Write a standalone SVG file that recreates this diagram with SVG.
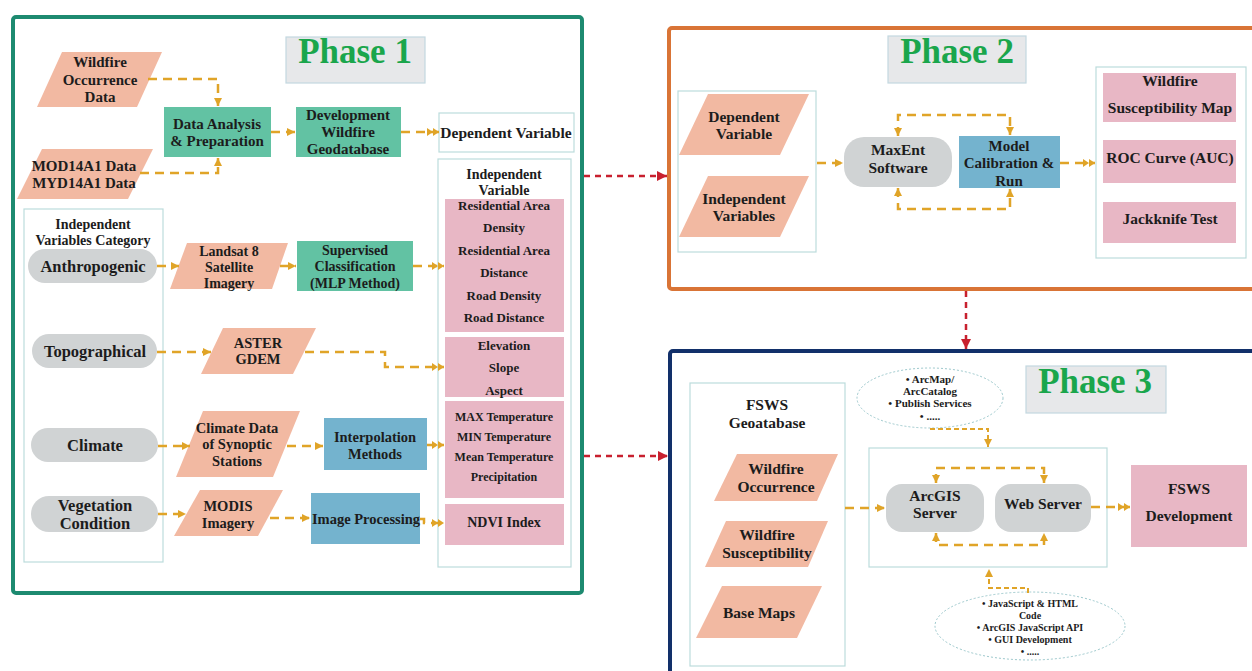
<svg xmlns="http://www.w3.org/2000/svg" width="1252" height="671" viewBox="0 0 1252 671">
<style>
.t{font-family:"Liberation Serif","Times New Roman",serif;font-weight:bold;fill:#1c1c1c;text-anchor:middle}
.ph{font-family:"Liberation Serif","Times New Roman",serif;font-weight:bold;fill:#1aa64c;text-anchor:middle;font-size:35px}
.para{fill:#f2b9a2}
.teal{fill:#62c2a3}
.blue{fill:#74b3ce}
.pink{fill:#e8b7c5}
.pill{fill:#d0d3d4}
.cont{fill:#ffffff;stroke:#bcdcdc;stroke-width:1.2}
.title{fill:#e7e8ea;stroke:#c3d8e0;stroke-width:1.2}
.ell{fill:#ffffff;stroke:#9cc8cc;stroke-width:1;stroke-dasharray:2 2}
.c{fill:none;stroke:#e0a428;stroke-width:2.5;stroke-dasharray:9 6}
.cf{fill:none;stroke:#e0a428;stroke-width:2;stroke-dasharray:5 3}
.r{fill:none;stroke:#c8202e;stroke-width:2.5;stroke-dasharray:6 5}
</style>
<defs>
<marker id="a" markerUnits="userSpaceOnUse" markerWidth="8" markerHeight="8" refX="8" refY="4" orient="auto-start-reverse"><path d="M0,0 L8,4 L0,8 z" fill="#e0a428"/></marker>
<marker id="aa" markerUnits="userSpaceOnUse" markerWidth="12" markerHeight="8" refX="12" refY="4" orient="auto"><path d="M0,0 L6,4 L0,8 z M6,0 L12,4 L6,8 z" fill="#e0a428"/></marker>
<marker id="ra" markerUnits="userSpaceOnUse" markerWidth="10" markerHeight="10" refX="10" refY="5" orient="auto"><path d="M0,0 L10,5 L0,10 z" fill="#c8202e"/></marker>
</defs>
<rect width="1252" height="671" fill="#ffffff"/>

<!-- Phase frames -->
<g id="phase1">
<rect x="13" y="17" width="569" height="576" rx="3" fill="none" stroke="#1d8a70" stroke-width="4"/>
<rect class="title" x="286" y="37" width="139" height="46"/>
<text class="ph" x="355" y="63">Phase 1</text>
</g>
<g id="phase2">
<rect x="669" y="28" width="620" height="261" rx="3" fill="none" stroke="#d97436" stroke-width="4"/>
<rect class="title" x="888" y="36" width="138" height="47"/>
<text class="ph" x="957" y="63">Phase 2</text>
</g>
<g id="phase3">
<rect x="670" y="351" width="620" height="360" rx="3" fill="none" stroke="#12306a" stroke-width="4"/>
<rect class="title" x="1026" y="366" width="140" height="47"/>
<text class="ph" x="1095" y="393">Phase 3</text>
</g>

<!-- Phase 1 nodes -->
<g id="wildfire-occurrence-data">
<polygon class="para" points="62,52 162,52 137,107 37,107"/>
<text class="t" font-size="15" x="100" y="67">Wildfire</text>
<text class="t" font-size="15" x="100" y="85">Occurrence</text>
<text class="t" font-size="15" x="100" y="102">Data</text>
</g>
<g id="mod14a1">
<polygon class="para" points="42,149 153,149 128,199 17,199"/>
<text class="t" font-size="15" x="84" y="171">MOD14A1 Data</text>
<text class="t" font-size="15" x="84" y="188">MYD14A1 Data</text>
</g>
<g id="data-analysis">
<rect class="teal" x="164" y="107" width="107" height="50"/>
<text class="t" font-size="15" x="217" y="129">Data Analysis</text>
<text class="t" font-size="15" x="217" y="146">&amp; Preparation</text>
</g>
<g id="development-geodatabase">
<rect class="teal" x="296" y="107" width="105" height="50"/>
<text class="t" font-size="15" x="348" y="120">Development</text>
<text class="t" font-size="15" x="348" y="137">Wildfire</text>
<text class="t" font-size="15" x="348" y="154">Geodatabase</text>
</g>
<g id="dependent-variable">
<rect class="cont" x="439" y="113" width="135" height="39"/>
<text class="t" font-size="15.5" x="506" y="138">Dependent Variable</text>
</g>
<g id="independent-variables-category">
<rect class="cont" x="24" y="209" width="139" height="353"/>
<text class="t" font-size="14" x="93" y="229">Independent</text>
<text class="t" font-size="14" x="93" y="245">Variables Category</text>
</g>
<g id="anthropogenic">
<rect class="pill" x="28" y="249" width="129" height="34" rx="17"/>
<text class="t" font-size="16.5" x="93" y="272">Anthropogenic</text>
</g>
<g id="topographical">
<rect class="pill" x="32" y="334" width="125" height="34" rx="17"/>
<text class="t" font-size="16.5" x="95" y="357">Topographical</text>
</g>
<g id="climate">
<rect class="pill" x="31" y="428" width="127" height="34" rx="17"/>
<text class="t" font-size="16.5" x="95" y="451">Climate</text>
</g>
<g id="vegetation-condition">
<rect class="pill" x="31" y="496" width="127" height="36" rx="18"/>
<text class="t" font-size="16.5" x="95" y="511">Vegetation</text>
<text class="t" font-size="16.5" x="95" y="529">Condition</text>
</g>
<g id="landsat">
<polygon class="para" points="187,243 288,243 272,289 170,289"/>
<text class="t" font-size="14" x="229" y="256">Landsat 8</text>
<text class="t" font-size="14" x="229" y="272">Satellite</text>
<text class="t" font-size="14" x="229" y="288">Imagery</text>
</g>
<g id="supervised-classification">
<rect class="teal" x="297" y="241" width="116" height="50"/>
<text class="t" font-size="14" x="355" y="255">Supervised</text>
<text class="t" font-size="14" x="355" y="271">Classification</text>
<text class="t" font-size="14" x="355" y="288">(MLP Method)</text>
</g>
<g id="aster-gdem">
<polygon class="para" points="223,328 316,328 293,374 201,374"/>
<text class="t" font-size="14.5" x="258" y="348">ASTER</text>
<text class="t" font-size="14.5" x="258" y="364">GDEM</text>
</g>
<g id="climate-data">
<polygon class="para" points="203,411 300,411 273,477 176,477"/>
<text class="t" font-size="14.5" x="237" y="433">Climate Data</text>
<text class="t" font-size="14.5" x="237" y="449">of Synoptic</text>
<text class="t" font-size="14.5" x="237" y="466">Stations</text>
</g>
<g id="interpolation-methods">
<rect class="blue" x="324" y="418" width="103" height="52"/>
<text class="t" font-size="14.5" x="375" y="442">Interpolation</text>
<text class="t" font-size="14.5" x="375" y="459">Methods</text>
</g>
<g id="modis-imagery">
<polygon class="para" points="200,490 283,490 258,536 174,536"/>
<text class="t" font-size="14.5" x="228" y="511">MODIS</text>
<text class="t" font-size="14.5" x="228" y="528">Imagery</text>
</g>
<g id="image-processing">
<rect class="blue" x="311" y="493" width="109" height="51"/>
<text class="t" font-size="14.5" x="366" y="524">Image Processing</text>
</g>
<g id="independent-variable">
<rect class="cont" x="438" y="159" width="133" height="408"/>
<text class="t" font-size="14" x="504" y="179">Independent</text>
<text class="t" font-size="14" x="504" y="195">Variable</text>
</g>
<g id="anthropogenic-vars">
<rect class="pink" x="445" y="199" width="119" height="133"/>
<text class="t" font-size="13" x="504" y="210">Residential Area</text>
<text class="t" font-size="13" x="504" y="232">Density</text>
<text class="t" font-size="13" x="504" y="255">Residential Area</text>
<text class="t" font-size="13" x="504" y="277">Distance</text>
<text class="t" font-size="13" x="504" y="300">Road Density</text>
<text class="t" font-size="13" x="504" y="322">Road Distance</text>
</g>
<g id="topographical-vars">
<rect class="pink" x="445" y="337" width="119" height="60"/>
<text class="t" font-size="13" x="504" y="350">Elevation</text>
<text class="t" font-size="13" x="504" y="372">Slope</text>
<text class="t" font-size="13" x="504" y="395">Aspect</text>
</g>
<g id="climate-vars">
<rect class="pink" x="445" y="401" width="119" height="97"/>
<text class="t" font-size="12" x="504" y="421">MAX Temperature</text>
<text class="t" font-size="12" x="504" y="441">MIN Temperature</text>
<text class="t" font-size="12" x="504" y="461">Mean Temperature</text>
<text class="t" font-size="12" x="504" y="481">Precipitation</text>
</g>
<g id="ndvi-index">
<rect class="pink" x="445" y="504" width="119" height="41"/>
<text class="t" font-size="14" x="504" y="527">NDVI Index</text>
</g>

<!-- Phase 2 nodes -->
<g id="phase2-inputs">
<rect class="cont" x="678" y="91" width="138" height="161"/>
</g>
<g id="p2-dependent-variable">
<polygon class="para" points="708,94 809,94 780,155 679,155"/>
<text class="t" font-size="15.5" x="744" y="122">Dependent</text>
<text class="t" font-size="15.5" x="744" y="139">Variable</text>
</g>
<g id="p2-independent-variables">
<polygon class="para" points="708,176 809,176 780,237 679,237"/>
<text class="t" font-size="15.5" x="744" y="204">Independent</text>
<text class="t" font-size="15.5" x="744" y="221">Variables</text>
</g>
<g id="maxent">
<rect class="pill" x="844" y="137" width="108" height="50" rx="20"/>
<text class="t" font-size="15.5" x="898" y="155">MaxEnt</text>
<text class="t" font-size="15.5" x="898" y="173">Software</text>
</g>
<g id="model-calibration">
<rect class="blue" x="959" y="136" width="101" height="52"/>
<text class="t" font-size="15" x="1009" y="151">Model</text>
<text class="t" font-size="15" x="1009" y="168">Calibration &amp;</text>
<text class="t" font-size="15" x="1009" y="186">Run</text>
</g>
<g id="phase2-outputs">
<rect class="cont" x="1096" y="67" width="150" height="191"/>
</g>
<g id="susceptibility-map">
<rect class="pink" x="1103" y="73" width="133" height="49"/>
<text class="t" font-size="15.5" x="1170" y="86">Wildfire</text>
<text class="t" font-size="15.5" x="1170" y="113">Susceptibility Map</text>
</g>
<g id="roc-curve">
<rect class="pink" x="1103" y="140" width="133" height="43"/>
<text class="t" font-size="15.5" x="1170" y="163">ROC Curve (AUC)</text>
</g>
<g id="jackknife-test">
<rect class="pink" x="1103" y="202" width="133" height="41"/>
<text class="t" font-size="15.5" x="1170" y="224">Jackknife Test</text>
</g>

<!-- Phase 3 nodes -->
<g id="fsws-geodatabase">
<rect class="cont" x="690" y="383" width="155" height="283"/>
<text class="t" font-size="15.5" x="767" y="410">FSWS</text>
<text class="t" font-size="15.5" x="767" y="428">Geoatabase</text>
</g>
<g id="p3-wildfire-occurrence">
<polygon class="para" points="737,454 838,454 817,501 714,501"/>
<text class="t" font-size="15.5" x="776" y="474">Wildfire</text>
<text class="t" font-size="15.5" x="776" y="492">Occurrence</text>
</g>
<g id="p3-wildfire-susceptibility">
<polygon class="para" points="726,521 828,521 808,567 705,567"/>
<text class="t" font-size="15.5" x="767" y="540">Wildfire</text>
<text class="t" font-size="15.5" x="767" y="558">Susceptibility</text>
</g>
<g id="base-maps">
<polygon class="para" points="722,586 822,586 797,638 696,638"/>
<text class="t" font-size="15.5" x="759" y="618">Base Maps</text>
</g>
<g id="server-container">
<rect class="cont" x="869" y="448" width="238" height="119"/>
</g>
<g id="arcgis-server">
<rect class="pill" x="886" y="484" width="98" height="48" rx="16"/>
<text class="t" font-size="15.5" x="935" y="501">ArcGIS</text>
<text class="t" font-size="15.5" x="935" y="518">Server</text>
</g>
<g id="web-server">
<rect class="pill" x="995" y="484" width="96" height="48" rx="16"/>
<text class="t" font-size="15.5" x="1043" y="509">Web Server</text>
</g>
<g id="fsws-development">
<rect class="pink" x="1131" y="465" width="116" height="82"/>
<text class="t" font-size="15.5" x="1189" y="494">FSWS</text>
<text class="t" font-size="15.5" x="1189" y="521">Development</text>
</g>
<g id="arcmap-notes">
<ellipse class="ell" cx="930" cy="398" rx="73" ry="30"/>
<text class="t" font-size="11" x="930" y="383">• ArcMap/</text>
<text class="t" font-size="11" x="930" y="395">ArcCatalog</text>
<text class="t" font-size="11" x="930" y="407">• Publish Services</text>
<text class="t" font-size="11" x="930" y="420">• .....</text>
</g>
<g id="javascript-notes">
<ellipse class="ell" cx="1030" cy="626" rx="95" ry="34"/>
<text class="t" font-size="10" x="1030" y="607">• JavaScript &amp; HTML</text>
<text class="t" font-size="10" x="1030" y="619">Code</text>
<text class="t" font-size="10" x="1030" y="631">• ArcGIS JavaScript API</text>
<text class="t" font-size="10" x="1030" y="643">• GUI Development</text>
<text class="t" font-size="10" x="1030" y="655">• .....</text>
</g>

<!-- Connectors -->
<g id="connectors">
<path class="c" d="M148,79 H218 V106" marker-end="url(#a)"/>
<path class="c" d="M140,173 H218 V158" marker-end="url(#a)"/>
<path class="c" d="M271,132 H295" marker-end="url(#a)"/>
<path class="c" d="M401,132 H439" marker-end="url(#aa)"/>
<path class="c" d="M157,266 H179" marker-end="url(#a)"/>
<path class="c" d="M280,266 H296" marker-end="url(#a)"/>
<path class="c" d="M413,266 H444" marker-end="url(#aa)"/>
<path class="c" d="M157,352 H211" marker-end="url(#a)"/>
<path class="c" d="M305,352 H385 V367 H444" marker-end="url(#aa)"/>
<path class="c" d="M158,446 H190" marker-end="url(#a)"/>
<path class="c" d="M287,446 H323" marker-end="url(#a)"/>
<path class="c" d="M427,445 H444" marker-end="url(#aa)"/>
<path class="c" d="M158,514 H186" marker-end="url(#a)"/>
<path class="c" d="M270,518 H310" marker-end="url(#a)"/>
<path class="c" d="M420,519 H424 V523 H444" marker-end="url(#aa)"/>
<path class="c" d="M817,163 H843" marker-end="url(#a)"/>
<path class="c" d="M1060,163 H1095" marker-end="url(#aa)"/>
<path class="c" d="M898,136 V115 H1010 V135" marker-start="url(#a)" marker-end="url(#a)"/>
<path class="c" d="M898,188 V209 H1010 V189" marker-start="url(#a)" marker-end="url(#a)"/>
<path class="c" d="M845,508 H885" marker-end="url(#a)"/>
<path class="c" d="M1091,507 H1130" marker-end="url(#aa)"/>
<path class="c" d="M936,483 V468 H1044 V483" marker-start="url(#a)" marker-end="url(#a)"/>
<path class="c" d="M936,533 V545 H1044 V533" marker-start="url(#a)" marker-end="url(#a)"/>
<path class="cf" d="M930,429 H988 V447" marker-end="url(#a)"/>
<path class="cf" d="M1028,593 V588 H989 V569" marker-end="url(#a)"/>
<path class="r" d="M584,176 H667" marker-end="url(#ra)"/>
<path class="r" d="M584,456 H668" marker-end="url(#ra)"/>
<path class="r" d="M966,291 V349" marker-end="url(#ra)"/>
</g>
</svg>
